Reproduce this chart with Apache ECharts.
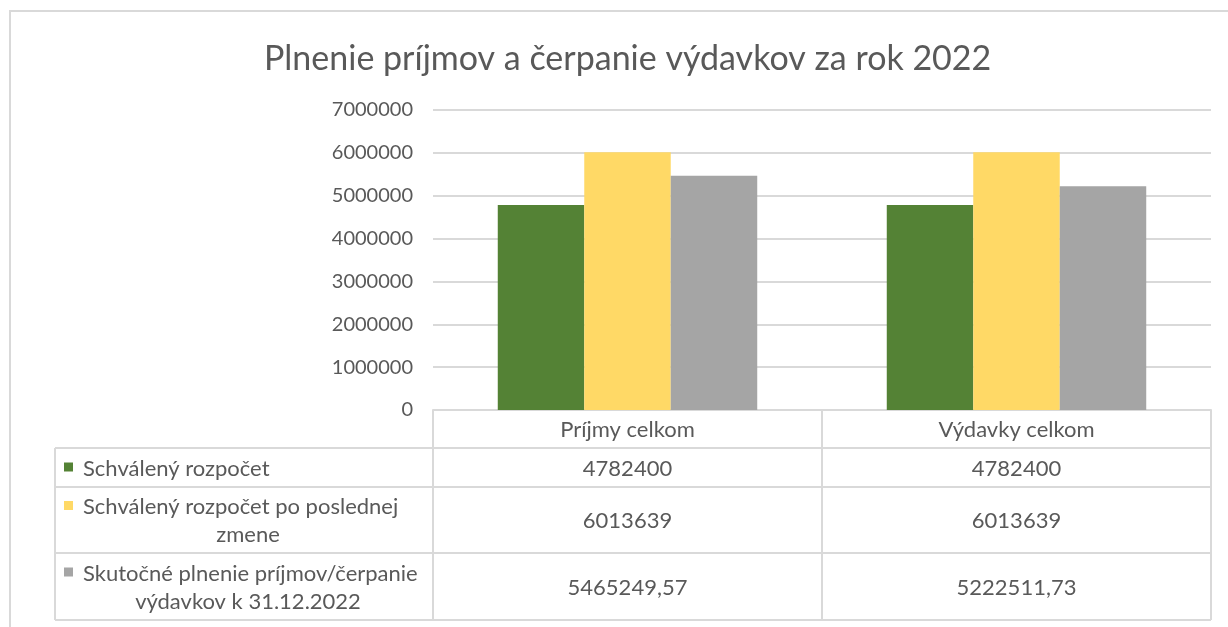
<!DOCTYPE html>
<html><head><meta charset="utf-8">
<script src="https://cdn.jsdelivr.net/npm/echarts@6/dist/echarts.min.js"></script>
<style>html,body{margin:0;padding:0;background:#fff}#c{width:1228px;height:627px}</style>
</head><body><div id="c"></div>
<script>
const chartTitle = 'Plnenie príjmov a čerpanie výdavkov za rok 2022';
const categories = ['Príjmy celkom', 'Výdavky celkom'];
const seriesNames = ['Schválený rozpočet', 'Schválený rozpočet po poslednej zmene', 'Skutočné plnenie príjmov/čerpanie výdavkov k 31.12.2022'];
const approvedBudget = [4782400, 4782400];
const amendedBudget = [6013639, 6013639];
const actualValues = [5465249.57, 5222511.73];
const yTicks = [0, 1000000, 2000000, 3000000, 4000000, 5000000, 6000000, 7000000];

const seriesData = [approvedBudget, amendedBudget, actualValues];
const colors = ['#548235', '#FFD966', '#A5A5A5'];
const FONT = 'Lato, "Open Sans", sans-serif';
const TXT = '#595959';
const LINE = '#d9d9d9';

// layout
const gridL = 433, gridR = 1211, gridT = 110, gridB = 410;
const tableL = 55;
const rowY = [410, 448, 487, 553, 620];

const chart = echarts.init(document.getElementById('c'), null, {renderer: 'canvas'});

function fmt(v) {
  return Number.isInteger(v) ? String(v) : v.toFixed(2).replace('.', ',');
}

chart.setOption({
  animation: false,
  backgroundColor: '#fff',
  title: {
    text: chartTitle, left: 259, top: 37,
    textStyle: {fontFamily: FONT, fontSize: 34, fontWeight: 'normal', color: TXT}
  },
  grid: {left: gridL, right: 1228 - gridR, top: gridT, bottom: 627 - gridB, containLabel: false},
  xAxis: {
    type: 'category', data: categories,
    axisLine: {show: true, lineStyle: {color: LINE, width: 2}},
    axisTick: {show: false}, axisLabel: {show: false}, splitLine: {show: false}
  },
  yAxis: {
    type: 'value', min: yTicks[0], max: yTicks[yTicks.length - 1], interval: yTicks[1] - yTicks[0],
    axisLine: {show: false}, axisTick: {show: false},
    axisLabel: {margin: 20, color: TXT, fontFamily: FONT, fontSize: 20, formatter: v => String(v)},
    splitLine: {lineStyle: {color: LINE, width: 2}}
  },
  series: seriesNames.map((n, i) => ({
    name: n, type: 'bar', data: seriesData[i], barGap: 0, barCategoryGap: '33.3%',
    itemStyle: {color: colors[i]}, silent: true
  }))
});

// Data table
const ctx = document.createElement('canvas').getContext('2d');
const tableFontSize = 22;
ctx.font = tableFontSize + 'px ' + FONT;
function wrap(text, maxW) {
  const words = text.split(' ');
  const lines = [];
  let cur = '';
  for (const w of words) {
    const t = cur ? cur + ' ' + w : w;
    if (ctx.measureText(t).width > maxW && cur) { lines.push(cur); cur = w; } else cur = t;
  }
  lines.push(cur);
  return lines;
}

const g = [];
function hline(x1, x2, y) { g.push({type: 'line', shape: {x1, y1: y, x2, y2: y}, style: {stroke: LINE, lineWidth: 2}, silent: true}); }
function vline(x, y1, y2) { g.push({type: 'line', shape: {x1: x, y1, x2: x, y2}, style: {stroke: LINE, lineWidth: 2}, silent: true}); }
function text(t, x, y, align) {
  g.push({type: 'text', x, y, silent: true, style: {text: t, fill: TXT, font: tableFontSize + 'px ' + FONT, textAlign: align || 'center', textVerticalAlign: 'middle'}});
}

// outer chart border
g.push({type: 'rect', shape: {x: 10, y: 11, width: 1240, height: 640}, style: {fill: 'none', stroke: LINE, lineWidth: 2}, silent: true});

const nCat = categories.length;
const band = (gridR - gridL) / nCat;
const colX = [gridL];
for (let i = 0; i < nCat; i++) colX.push(gridL + band * (i + 1));
hline(gridL, gridR, rowY[0]);
for (let r = 1; r < rowY.length; r++) hline(tableL, gridR, rowY[r]);
vline(tableL, rowY[1], rowY[4]);
colX.forEach(x => vline(x, rowY[0], rowY[4]));

categories.forEach((c, i) => {
  const cx = chart.convertToPixel({xAxisIndex: 0}, c);
  text(c, cx, (rowY[0] + rowY[1]) / 2 + 1);
  seriesData.forEach((arr, s) => {
    text(fmt(arr[i]), cx, (rowY[s + 1] + rowY[s + 2]) / 2 + 1);
  });
});

const lineH = 28;
const colCenter = 248;
seriesNames.forEach((n, s) => {
  const top = rowY[s + 1], bot = rowY[s + 2];
  const lines = wrap(n, gridL - 83 - 4);
  const y0 = (top + bot) / 2 - (lines.length - 1) * lineH / 2;
  g.push({type: 'rect', shape: {x: 64, y: y0 - 5, width: 9, height: 9}, style: {fill: colors[s]}, silent: true});
  lines.forEach((ln, k) => {
    if (k === 0) text(ln, 83, y0 + 1, 'left');
    else text(ln, colCenter, y0 + k * lineH + 1, 'center');
  });
});

chart.setOption({graphic: {elements: g}});
</script>
</body></html>
